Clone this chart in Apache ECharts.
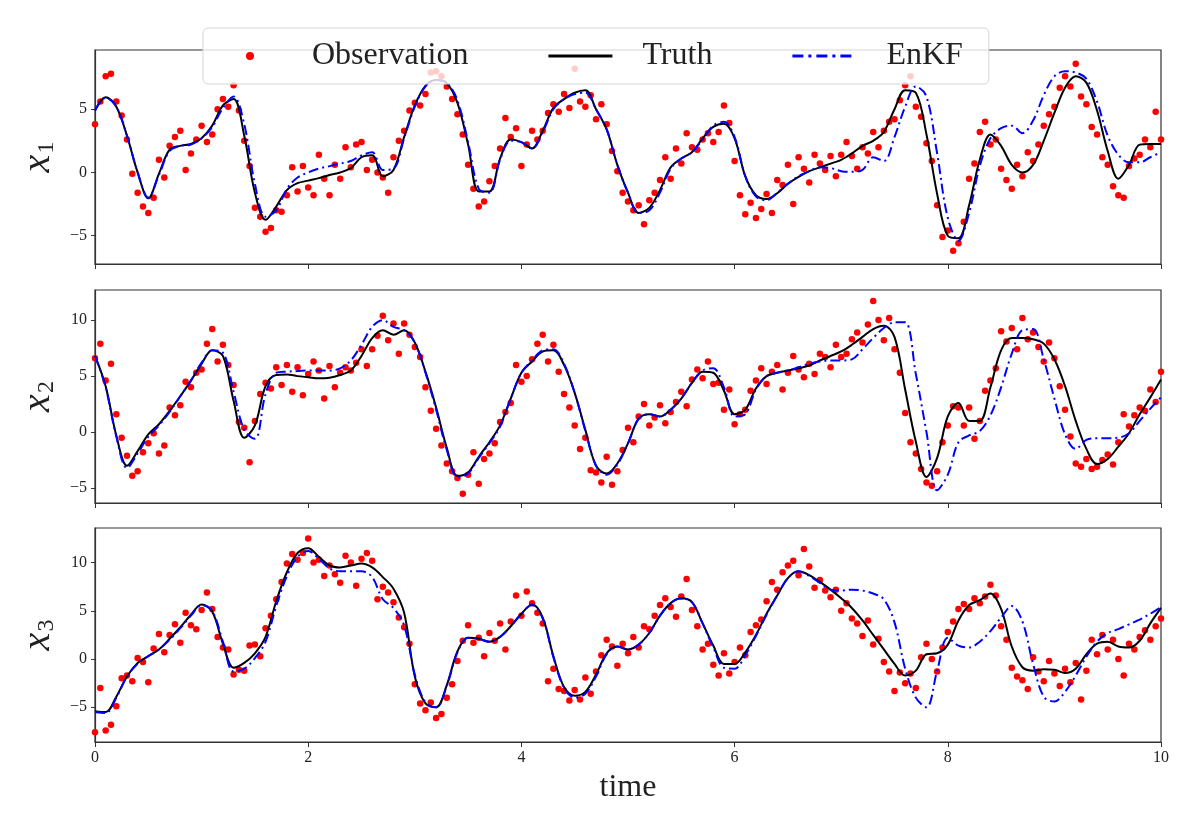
<!DOCTYPE html>
<html>
<head>
<meta charset="utf-8">
<script src="https://cdn.jsdelivr.net/npm/echarts@6/dist/echarts.min.js"></script>
<style>
  html, body { margin: 0; padding: 0; background: #fff; }
  #chart { width: 1200px; height: 829px; }
</style>
</head>
<body>
<div id="chart"></div>
<script>
// time step of the curves and of the observations
var dtLine = 0.1;
var dtObs = 0.05;

// x1
var truth1 = [
  4.9, 5.95, 5.2, 2.9, 0.0, -2.05, -0.1, 1.8, 2.1, 2.25,
  2.7, 3.7, 5.3, 5.8, 2.9, -1.6, -3.75, -2.7, -1.4, -0.85,
  -0.65, -0.45, -0.2, 0.0, 0.35, 1.2, 1.35, -0.3, 0.2, 2.8,
  5.3, 6.85, 7.3, 7.05, 5.5, 2.2, -1.5, -1.5, 1.1, 2.6,
  2.4, 1.9, 3.3, 5.1, 5.8, 6.3, 6.5, 5.0, 3.4, 0.6,
  -1.6, -3.2, -2.8, -1.4, 0.4, 1.1, 1.6, 2.7, 3.6, 3.85,
  2.7, -0.3, -1.8, -2.1, -1.65, -0.9, -0.35, 0.1, 0.4, 0.7,
  1.0, 1.5, 2.1, 2.5, 3.2, 5.0, 6.5, 6.3, 3.0, -1.7,
  -5.0, -5.2, -2.6, 1.0, 3.0, 2.1, 0.6, 0.0, 0.6, 2.5,
  4.7, 6.7, 7.6, 7.1, 4.9, 1.7, -0.5, 0.6, 2.2, 2.25,
  2.25
];
var enkf1 = [
  4.9, 5.9, 5.2, 2.9, 0.0, -2.0, -0.2, 1.7, 2.1, 2.2,
  2.7, 3.6, 5.1, 6.0, 3.8, -0.9, -3.5, -3.0, -1.3, -0.4,
  0.0, 0.3, 0.5, 0.7, 0.9, 1.35, 1.6, 0.2, 0.3, 2.7,
  5.2, 6.8, 7.3, 7.1, 5.7, 2.4, -1.3, -1.6, 1.0, 2.5,
  2.4, 1.9, 3.2, 5.0, 5.8, 6.2, 6.3, 5.0, 3.4, 0.6,
  -1.6, -3.2, -3.0, -1.6, 0.3, 1.1, 1.6, 2.6, 3.7, 4.0,
  2.8, -0.3, -1.9, -2.2, -1.6, -0.9, -0.3, 0.1, 0.4, 0.35,
  0.1, 0.05, 0.2, 1.2, 0.9, 2.8, 5.2, 6.8, 6.0, 1.5,
  -3.6, -5.4, -3.2, 0.5, 2.7, 3.5, 3.7, 3.1, 4.1, 6.1,
  7.6, 8.0, 7.9, 7.4, 5.6, 2.9, 1.4, 0.8, 0.8, 1.2,
  1.6
];
var obs1 = [
  3.8, 5.6, 7.6, 7.8, 5.6, 4.5, 2.6, -0.1, -1.6, -2.7, -3.2, -2.0, 1.0, -0.4, 2.1, 2.8, 3.3, 0.2, 1.5, 2.6,
  3.7, 2.4, 3.0, 5.0, 5.8, 5.2, 6.9, 4.9, 2.5, 0.5, -2.8, -3.5, -4.7, -4.4, -3.0, -3.1, -1.8, 0.4, -1.5, 0.5,
  -1.2, -1.8, 1.4, -0.5, -1.8, 0.6, -0.5, 2.0, 0.4, 2.2, 2.4, 0.2, 1.0, 0.0, -0.4, -1.6, 1.2, 2.5, 3.3, 4.9,
  5.5, 5.3, 6.2, 7.9, 8.0, 7.6, 6.8, 5.8, 4.6, 3.0, 0.6, -1.3, -2.7, -2.3, -0.7, 0.5, 1.9, 4.3, 2.8, 3.5,
  0.5, 2.2, 3.3, 2.6, 3.3, 4.7, 5.4, 4.8, 6.2, 5.1, 8.2, 5.6, 5.2, 6.1, 4.2, 5.4, 3.8, 1.7, 0.1, -1.6,
  -2.3, -3.0, -2.6, -4.1, -2.2, -1.6, -0.6, 1.2, -0.5, 1.9, 0.7, 3.1, 2.0, 1.8, 2.6, 3.1, 2.4, 3.2, 5.3, 3.9,
  0.9, -1.8, -3.3, -2.4, -3.6, -2.9, -1.7, -3.2, -0.6, -1.0, 0.6, -2.5, 1.2, 0.3, -0.8, 1.4, 0.7, 0.2, 1.3, -0.3,
  1.4, 2.4, 1.3, 0.3, 2.0, 1.5, 3.2, 2.0, 3.3, 4.0, 4.2, 5.7, 6.9, 7.6, 5.2, 4.4, 2.3, 0.9, -2.6, -5.1,
  -4.6, -6.2, -5.6, -3.9, -0.5, 0.7, 3.2, 4.0, 2.2, 2.6, 0.3, -0.6, -1.3, 0.6, -0.3, 1.6, 0.9, 2.2, 3.7, 4.6,
  5.2, 6.7, 7.6, 6.8, 8.6, 6.0, 5.4, 3.6, 3.0, 1.2, 0.6, -1.1, -1.8, -2.0, 0.5, 1.1, 1.4, 2.6, 2.0, 4.8,
  2.6
];

// x2
var truth2 = [
  6.8, 4.1, -0.3, -3.0, -1.7, -0.2, 0.7, 1.9, 3.2, 4.6,
  6.1, 7.3, 6.8, 2.8, -0.5, 0.6, 4.1, 5.1, 5.15, 5.0,
  4.9, 4.8, 4.85, 5.1, 5.5, 6.8, 8.4, 9.1, 8.7, 9.1,
  8.0, 5.4, 2.2, -1.4, -3.9, -3.6, -2.2, -0.9, 0.6, 3.0,
  5.3, 6.3, 7.2, 7.3, 6.0, 3.5, 0.2, -3.0, -3.7, -2.8,
  -1.0, 1.2, 1.6, 1.4, 2.0, 3.0, 4.4, 5.4, 5.3, 3.7,
  1.6, 2.0, 3.9, 5.0, 5.3, 5.5, 5.7, 5.95, 6.4, 6.8,
  7.2, 7.8, 8.5, 9.2, 9.5, 8.5, 3.8, -0.85, -4.0, -2.3,
  1.4, 2.6, 1.0, 1.0, 4.0, 7.3, 8.4, 8.4, 8.3, 7.9,
  6.5, 4.1, 1.0, -1.5, -2.85, -2.4, -1.3, -0.1, 1.6, 3.1,
  4.7
];
var enkf2 = [
  6.8, 4.0, -0.4, -3.2, -1.9, -0.4, 0.6, 1.8, 3.2, 4.6,
  6.2, 7.3, 7.1, 3.6, 0.2, -0.6, 3.4, 5.3, 5.4, 5.45,
  5.5, 5.5, 5.5, 5.7, 6.4, 7.8, 9.4, 10.0, 9.4, 9.1,
  8.0, 5.3, 2.0, -1.6, -4.0, -3.7, -2.3, -1.0, 0.5, 3.0,
  5.3, 6.4, 7.3, 7.4, 6.1, 3.5, 0.1, -3.0, -3.8, -2.9,
  -1.0, 1.2, 1.6, 1.4, 2.0, 3.0, 4.4, 5.5, 5.7, 4.0,
  1.4, 1.6, 3.8, 5.0, 5.3, 5.5, 5.8, 6.1, 6.3, 6.4,
  6.4, 6.5, 7.4, 8.4, 9.3, 9.8, 9.8, 5.2, 0.0, -5.2,
  -3.8, -0.9, -0.3, 0.1, 1.5, 4.0, 7.0, 9.1, 9.2, 6.5,
  3.0, -0.2, -1.5, -0.7, -0.55, -0.55, -0.5, -0.1, 1.0, 2.1,
  3.1
];
var obs2 = [
  6.6, 7.9, 4.6, 6.1, 1.6, -0.5, -2.1, -3.9, -3.5, -1.8, -1.0, -0.1, -1.9, -1.2, 2.2, 1.5, 2.4, 4.5, 4.0, 5.3,
  5.6, 7.9, 9.2, 6.3, 7.8, 6.0, 4.2, 0.9, 0.4, -2.7, 1.0, 3.4, 4.4, 3.9, 5.8, 4.2, 6.0, 3.6, 5.8, 3.3,
  5.2, 6.3, 5.5, 3.0, 5.9, 4.0, 5.3, 5.8, 5.5, 6.2, 7.4, 5.9, 7.4, 8.6, 10.4, 8.2, 9.7, 7.0, 9.7, 8.7,
  7.6, 6.7, 4.0, 1.9, 0.3, -1.2, -2.8, -3.5, -4.1, -5.5, -3.8, -1.8, -4.6, -2.4, -1.9, -1.0, 0.9, 1.8, 2.6, 6.0,
  4.5, 5.0, 6.5, 7.9, 8.7, 6.3, 7.8, 5.4, 3.4, 2.2, 0.6, -1.5, -0.5, -3.4, -3.6, -4.5, -2.2, -4.7, -3.5, -1.6,
  0.4, -0.9, 1.4, 2.5, 0.6, 1.3, 2.4, 0.8, 1.8, 2.7, 3.6, 2.3, 4.7, 5.6, 4.8, 6.3, 4.3, 4.4, 2.0, 3.8,
  0.7, 1.6, 2.0, 3.7, 4.6, 5.7, 4.3, 5.4, 6.0, 3.8, 5.3, 6.8, 5.6, 4.9, 6.1, 5.2, 7.0, 6.7, 5.8, 7.8,
  6.7, 7.0, 8.3, 8.9, 8.0, 9.6, 11.7, 10.0, 8.2, 10.2, 7.4, 5.3, 1.7, -0.9, -1.9, -3.3, -4.5, -4.8, -3.5, -0.9,
  0.6, 2.3, 2.2, 0.6, 2.2, -0.6, 1.0, 3.7, 4.6, 5.7, 9.0, 8.1, 9.3, 7.4, 10.2, 8.3, 8.9, 7.6, 6.3, 8.0,
  6.6, 4.1, 2.0, -0.4, -2.8, -3.1, -2.4, -3.3, -3.1, -2.5, -2.0, -2.9, -0.9, 1.6, 0.5, 1.5, 2.2, 1.9, 3.8, 2.7,
  5.4
];

// x3
var truth3 = [
  -5.4, -5.5, -3.9, -1.8, -0.4, 0.3, 1.0, 2.1, 3.3, 4.6,
  5.65, 4.9, 1.6, -0.9, -0.4, 0.6, 2.3, 6.0, 9.0, 11.0,
  11.5, 10.6, 9.7, 9.5, 9.7, 9.9, 9.5, 8.5, 7.3, 4.8,
  -1.8, -4.6, -5.0, -2.7, 0.8, 2.2, 2.1, 1.8, 2.3, 3.4,
  4.7, 5.65, 4.3, 0.3, -2.9, -3.8, -3.4, -1.6, 0.6, 1.3,
  1.0, 1.5, 2.7, 4.5, 5.8, 6.3, 5.9, 3.7, 1.4, -0.5,
  -0.5, 0.7, 2.5, 4.7, 6.6, 8.4, 9.1, 8.7, 8.0, 7.2,
  6.3, 5.3, 4.0, 2.5, 1.0, -0.5, -1.7, -1.2, 0.5, 0.6,
  1.5, 4.0, 5.6, 6.1, 6.8, 5.2, 1.3, -0.85, -1.2, -1.05,
  -1.1, -1.45, -1.0, 0.5, 1.6, 1.8, 1.3, 1.2, 1.9, 3.7,
  5.3
];
var enkf3 = [
  -5.5, -5.6, -4.0, -1.8, -0.5, 0.3, 1.0, 2.0, 3.2, 4.5,
  5.6, 5.0, 1.8, -1.3, -1.0, 0.1, 1.8, 5.5, 8.6, 10.6,
  11.2, 10.4, 9.4, 9.1, 9.1, 9.1, 8.5, 6.2, 5.3, 3.5,
  -1.6, -4.5, -5.0, -2.8, 0.7, 2.2, 2.1, 1.8, 2.3, 3.4,
  4.7, 5.6, 4.2, 0.2, -3.0, -4.0, -3.6, -1.8, 0.5, 1.3,
  1.0, 1.5, 2.7, 4.5, 5.8, 6.3, 5.9, 3.7, 1.2, -0.9,
  -1.0, 0.4, 2.4, 4.6, 6.6, 8.4, 9.1, 8.6, 7.9, 7.2,
  7.1, 7.2, 7.1, 6.8, 6.2, 3.8, -1.0, -4.0, -5.0, -1.2,
  2.2, 1.4, 1.2, 1.8, 2.9, 4.3, 5.5, 3.9, -0.5, -3.9,
  -4.4, -3.4, -1.7, 0.25, 1.8, 2.7, 3.1, 3.6, 4.1, 4.7,
  5.4
];
var obs3 = [
  -7.6, -3.0, -7.4, -6.8, -4.9, -2.0, -1.7, -2.3, 0.1, -0.3, -2.4, 1.1, 2.6, 0.7, 2.5, 3.6, 1.7, 4.8, 3.5, 3.1,
  5.1, 6.9, 5.2, 2.3, 1.2, 1.0, -1.6, -1.1, -1.2, 1.4, 1.5, 0.3, 3.2, 4.5, 6.2, 8.0, 9.9, 10.9, 10.3, 11.0,
  12.5, 10.0, 10.3, 8.6, 9.7, 8.8, 7.9, 10.7, 10.0, 7.6, 10.4, 11.0, 10.2, 6.2, 7.5, 6.9, 5.9, 4.3, 3.3, 1.6,
  -2.6, -4.6, -5.3, -4.5, -6.1, -5.7, -4.0, -2.6, -0.2, 1.9, 3.5, 1.7, 2.2, 0.3, 2.7, 1.9, 3.7, 1.0, 3.9, 6.6,
  4.5, 7.0, 5.8, 4.8, 3.7, -2.3, -1.0, -3.1, -3.3, -4.3, -3.2, -4.2, -1.9, -3.6, -1.3, 0.4, 2.0, 1.3, -0.7, 1.6,
  0.6, 2.3, 1.2, 3.4, 3.1, 4.5, 5.6, 6.3, 5.4, 4.4, 6.5, 8.3, 5.1, 3.4, 1.0, 1.6, -0.6, -1.7, 0.6, -1.5,
  -0.3, 1.2, 0.4, 2.8, 3.5, 4.1, 6.0, 8.0, 7.2, 9.0, 9.7, 10.2, 8.7, 11.4, 9.6, 7.4, 8.2, 7.1, 6.4, 7.2,
  5.0, 5.8, 4.2, 3.7, 2.4, 4.0, 1.5, 2.1, -0.3, -1.3, -3.3, -1.4, -2.5, -1.5, -3.0, 0.2, 1.6, 0.0, -1.3, 1.2,
  2.8, 3.9, 5.2, 5.7, 5.2, 6.3, 5.8, 6.5, 7.7, 6.6, 3.4, 2.0, -0.9, -1.8, -2.2, -3.1, 0.2, -1.3, -2.3, -0.2,
  -1.5, -2.8, -1.0, -2.4, -0.4, -4.2, -1.2, 2.0, 0.5, 2.5, 1.0, 2.0, 0.0, -1.7, 1.6, 1.0, 2.3, 3.0, 2.0, 3.4,
  4.2
];

// axis ranges and tick labels
var yRanges = [[-7.24, 9.68], [-6.33, 12.69], [-8.6, 13.59]];
var yTicks = [[-5, 0, 5], [-5, 0, 5, 10], [-5, 0, 5, 10]];
var yNames = ['1', '2', '3'];

function withTime(values, dt) {
  return values.map(function (v, i) { return [+(i * dt).toFixed(2), v]; });
}

var serif = 'Liberation Serif';
var ink = '#222';
var minus = function (v) { return String(v).replace('-', '\u2212'); };

// legend handles, 64 wide: a centred dot, a solid line, a dash-dot line
var iconDot = 'path://M0,4L0,4M64,4L64,4M28,4a4,4 0 1,0 8,0a4,4 0 1,0 -8,0Z';
var iconLine = 'path://M0,2.5H64V5.5H0Z';
var iconDashDot = 'path://M0,0L0,0M64,8L64,8' +
  'M0,2.5H11V5.5H0Z M16,2.5H19V5.5H16Z M24,2.5H35V5.5H24Z M40,2.5H43V5.5H40Z M48,2.5H59V5.5H48Z';

var grids = [
  { left: 95, right: 39, top: 50, height: 214 },
  { left: 95, right: 39, top: 290, height: 213 },
  { left: 95, right: 39, top: 528, height: 214 }
].map(function (g) {
  g.show = true; g.borderColor = '#333'; g.borderWidth = 1.2; g.backgroundColor = 'transparent';
  return g;
});

var xAxes = [0, 1, 2].map(function (i) {
  return {
    gridIndex: i, type: 'value', min: 0, max: 10, interval: 2,
    axisLine: { show: true, onZero: false, lineStyle: { color: '#333', width: 1.2 } },
    axisTick: { show: true, length: 5, lineStyle: { color: '#333' } },
    axisLabel: { show: i === 2, margin: 8, fontFamily: serif, fontSize: 16, color: ink },
    splitLine: { show: false },
    name: i === 2 ? 'time' : '',
    nameLocation: 'middle', nameGap: 30,
    nameTextStyle: { fontFamily: serif, fontSize: 32, color: ink }
  };
});

var yAxes = [0, 1, 2].map(function (i) {
  return {
    gridIndex: i, type: 'value', min: yRanges[i][0], max: yRanges[i][1],
    axisLine: { show: true, onZero: false, lineStyle: { color: '#333', width: 1.2 } },
    axisTick: { show: true, length: 4, customValues: yTicks[i], lineStyle: { color: '#333' } },
    axisLabel: { customValues: yTicks[i], margin: 8, fontFamily: serif, fontSize: 16, color: ink, formatter: minus },
    splitLine: { show: false },
    name: '{x|x}{s|' + yNames[i] + '}',
    nameLocation: 'middle', nameRotate: 90, nameGap: 36,
    nameTextStyle: {
      rich: {
        x: { fontFamily: serif, fontStyle: 'italic', fontSize: 40, color: ink },
        s: { fontFamily: serif, fontSize: 24, color: ink, padding: [18, 0, 0, 1] }
      }
    }
  };
});

var panels = [[obs1, truth1, enkf1], [obs2, truth2, enkf2], [obs3, truth3, enkf3]];
var series = [];
panels.forEach(function (p, i) {
  series.push({
    name: 'Observation', type: 'scatter', xAxisIndex: i, yAxisIndex: i,
    symbol: 'circle', symbolSize: 6.5, itemStyle: { color: '#ff0000', opacity: 1 },
    data: withTime(p[0], dtObs)
  });
  series.push({
    name: 'Truth', type: 'line', xAxisIndex: i, yAxisIndex: i,
    showSymbol: false, symbol: 'none', smooth: 0.35,
    lineStyle: { color: '#000', width: 2 }, itemStyle: { color: '#000' },
    data: withTime(p[1], dtLine)
  });
  series.push({
    name: 'EnKF', type: 'line', xAxisIndex: i, yAxisIndex: i,
    showSymbol: false, symbol: 'none', smooth: 0.35,
    lineStyle: { color: '#0000ff', width: 2, type: [10, 4, 2, 4] }, itemStyle: { color: '#0000ff' },
    data: withTime(p[2], dtLine)
  });
});

var chart = echarts.init(document.getElementById('chart'));
chart.setOption({
  animation: false,
  backgroundColor: '#fff',
  grid: grids,
  xAxis: xAxes,
  yAxis: yAxes,
  legend: {
    left: 203, top: 28,
    itemWidth: 64, itemHeight: 8, itemGap: 80,
    padding: [12, 26, 12, 15],
    backgroundColor: 'rgba(255,255,255,0.8)',
    borderColor: '#d6d6d6', borderWidth: 1, borderRadius: 5,
    formatter: function (name) { return '{pad|}{t|' + name + '}'; },
    textStyle: {
      fontFamily: serif, fontSize: 32, color: ink,
      rich: {
        pad: { width: 25 },
        t: { fontFamily: serif, fontSize: 32, color: ink }
      }
    },
    data: [
      { name: 'Observation', icon: iconDot },
      { name: 'Truth', icon: iconLine },
      { name: 'EnKF', icon: iconDashDot }
    ]
  },
  series: series
});
</script>
</body>
</html>
